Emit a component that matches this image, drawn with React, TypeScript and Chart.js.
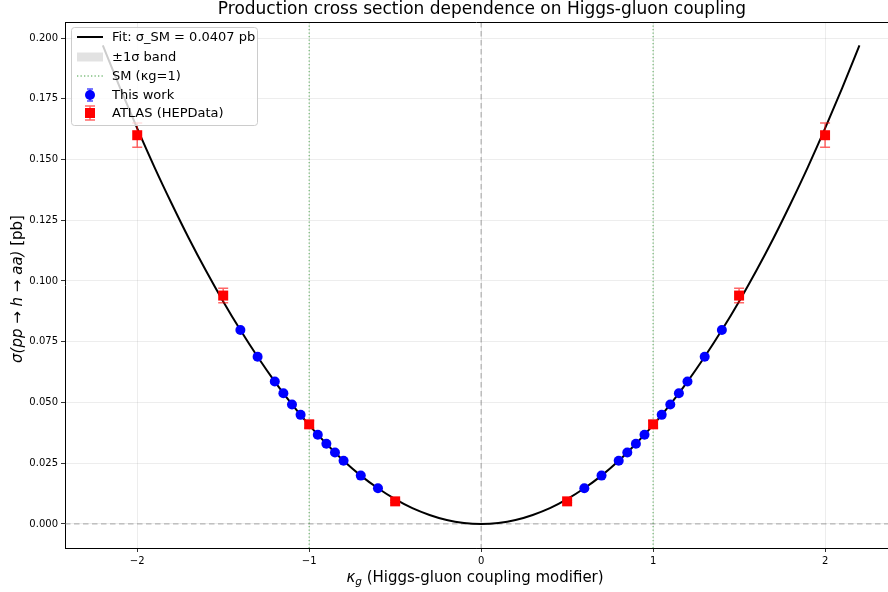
import React, { useEffect, useRef } from "react";
import { Chart, registerables } from "chart.js";

Chart.register(...registerables);

// Fit curve sigma(kappa) (σ_SM = 0.0407 pb)
const fitKappa = [
  -2.2, -2.1, -2.0, -1.9, -1.8, -1.7, -1.6, -1.5, -1.4, -1.3, -1.2, -1.1, -1.0,
  -0.9, -0.8, -0.7, -0.6, -0.5, -0.4, -0.3, -0.2, -0.1, 0.0, 0.1, 0.2, 0.3, 0.4,
  0.5, 0.6, 0.7, 0.8, 0.9, 1.0, 1.1, 1.2, 1.3, 1.4, 1.5, 1.6, 1.7, 1.8, 1.9, 2.0,
  2.1, 2.2,
];
const fitSigma = [
  0.197, 0.1795, 0.1628, 0.1469, 0.1319, 0.1176, 0.1042, 0.0916, 0.0798, 0.0688,
  0.0586, 0.0492, 0.0407, 0.033, 0.026, 0.0199, 0.0147, 0.0102, 0.0065, 0.0037,
  0.0016, 0.0004, 0.0, 0.0004, 0.0016, 0.0037, 0.0065, 0.0102, 0.0147, 0.0199,
  0.026, 0.033, 0.0407, 0.0492, 0.0586, 0.0688, 0.0798, 0.0916, 0.1042, 0.1176,
  0.1319, 0.1469, 0.1628, 0.1795, 0.197,
];

// "This work" points
const workKappa = [
  -1.4, -1.3, -1.2, -1.15, -1.1, -1.05, -0.95, -0.9, -0.85, -0.8, -0.7, -0.6,
  0.6, 0.7, 0.8, 0.85, 0.9, 0.95, 1.05, 1.1, 1.15, 1.2, 1.3, 1.4,
];
const workSigma = [
  0.0798, 0.0688, 0.0586, 0.0538, 0.0492, 0.0449, 0.0367, 0.033, 0.0294, 0.026,
  0.0199, 0.0147, 0.0147, 0.0199, 0.026, 0.0294, 0.033, 0.0367, 0.0449, 0.0492,
  0.0538, 0.0586, 0.0688, 0.0798,
];
const workErr = [
  0.0008, 0.0007, 0.0006, 0.0005, 0.0005, 0.0005, 0.0004, 0.0003, 0.0003,
  0.0003, 0.0002, 0.0002, 0.0002, 0.0002, 0.0003, 0.0003, 0.0003, 0.0004,
  0.0005, 0.0005, 0.0005, 0.0006, 0.0007, 0.0008,
];

// ATLAS (HEPData) points
const atlasKappa = [-2.0, -1.5, -1.0, -0.5, 0.5, 1.0, 1.5, 2.0];
const atlasSigma = [0.16, 0.094, 0.041, 0.0093, 0.0093, 0.041, 0.094, 0.16];
const atlasErr = [0.005, 0.003, 0.0015, 0.0005, 0.0005, 0.0015, 0.003, 0.005];

const xTicks = [-2, -1, 0, 1, 2];
const xTickLabels = ["−2", "−1", "0", "1", "2"];
const yTicks = [0, 0.025, 0.05, 0.075, 0.1, 0.125, 0.15, 0.175, 0.2];

const FONT = "'DejaVu Sans', sans-serif";

function drawErrorBars(ctx: CanvasRenderingContext2D, chart: any, xs: number[], ys: number[], es: number[], color: string, cap: number) {
  const x = chart.scales.x;
  const y = chart.scales.y;
  ctx.save();
  ctx.strokeStyle = color;
  ctx.lineWidth = 1.5;
  for (let i = 0; i < xs.length; i++) {
    const px = x.getPixelForValue(xs[i]);
    const p1 = y.getPixelForValue(ys[i] - es[i]);
    const p2 = y.getPixelForValue(ys[i] + es[i]);
    ctx.beginPath();
    ctx.moveTo(px, p1);
    ctx.lineTo(px, p2);
    if (cap > 0) {
      ctx.moveTo(px - cap, p1);
      ctx.lineTo(px + cap, p1);
      ctx.moveTo(px - cap, p2);
      ctx.lineTo(px + cap, p2);
    }
    ctx.stroke();
  }
  ctx.restore();
}

const overlay = {
  id: "overlay",
  beforeDatasetsDraw(chart: any) {
    const { ctx, chartArea: a, scales } = chart;
    const x = scales.x;
    const y = scales.y;
    ctx.save();
    ctx.beginPath();
    ctx.rect(a.left, a.top, a.right - a.left, a.bottom - a.top);
    ctx.clip();
    // zero reference lines
    ctx.strokeStyle = "rgba(128,128,128,0.55)";
    ctx.lineWidth = 1.3;
    ctx.setLineDash([5.5, 3.5]);
    ctx.beginPath();
    ctx.moveTo(x.getPixelForValue(0), a.top);
    ctx.lineTo(x.getPixelForValue(0), a.bottom);
    ctx.moveTo(a.left, y.getPixelForValue(0));
    ctx.lineTo(a.right, y.getPixelForValue(0));
    ctx.stroke();
    // SM lines
    ctx.strokeStyle = "rgba(0,128,0,0.5)";
    ctx.lineWidth = 1.3;
    ctx.setLineDash([1.3, 2.2]);
    ctx.beginPath();
    for (const k of [-1, 1]) {
      ctx.moveTo(x.getPixelForValue(k), a.top);
      ctx.lineTo(x.getPixelForValue(k), a.bottom);
    }
    ctx.stroke();
    ctx.restore();
  },
  afterDatasetsDraw(chart: any) {
    const { ctx } = chart;
    drawErrorBars(ctx, chart, workKappa, workSigma, workErr, "rgba(0,0,255,0.7)", 3);
    drawErrorBars(ctx, chart, atlasKappa, atlasSigma, atlasErr, "rgba(255,0,0,0.6)", 5);
  },
  afterDraw(chart: any) {
    const { ctx, chartArea: a, scales } = chart;
    ctx.save();
    ctx.setLineDash([]);
    // top spine (right spine lies outside the picture)
    ctx.strokeStyle = "#000";
    ctx.lineWidth = 1;
    ctx.beginPath();
    ctx.moveTo(a.left, a.top + 0.5);
    ctx.lineTo(a.right, a.top + 0.5);
    ctx.stroke();

    // x tick labels
    ctx.fillStyle = "#000";
    ctx.font = `10px ${FONT}`;
    ctx.textAlign = "center";
    ctx.textBaseline = "middle";
    xTicks.forEach((v, i) => ctx.fillText(xTickLabels[i], scales.x.getPixelForValue(v), 561));

    // title
    ctx.font = `17px ${FONT}`;
    ctx.fillText("Production cross section dependence on Higgs-gluon coupling", 482, 10);

    // x axis title
    const cx = 475;
    ctx.textAlign = "left";
    ctx.textBaseline = "alphabetic";
    const p1 = "κ";
    const p2 = "g";
    const p3 = " (Higgs-gluon coupling modifier)";
    ctx.font = `italic 15px ${FONT}`;
    const w1 = ctx.measureText(p1).width;
    ctx.font = `italic 10.5px ${FONT}`;
    const w2 = ctx.measureText(p2).width;
    ctx.font = `15px ${FONT}`;
    const w3 = ctx.measureText(p3).width;
    const sx = cx - (w1 + w2 + w3) / 2;
    const base = 582;
    ctx.font = `italic 15px ${FONT}`;
    ctx.fillText(p1, sx, base);
    ctx.font = `italic 10.5px ${FONT}`;
    ctx.fillText(p2, sx + w1, base + 3);
    ctx.font = `15px ${FONT}`;
    ctx.fillText(p3, sx + w1 + w2, base);

    // y axis title
    ctx.save();
    ctx.translate(18, 289);
    ctx.rotate(-Math.PI / 2);
    const q1 = "σ(pp → h → aa)";
    const q2 = " [pb]";
    ctx.font = `italic 15px ${FONT}`;
    const v1 = ctx.measureText(q1).width;
    ctx.font = `15px ${FONT}`;
    const v2 = ctx.measureText(q2).width;
    ctx.textBaseline = "middle";
    ctx.font = `italic 15px ${FONT}`;
    ctx.fillText(q1, -(v1 + v2) / 2, 0);
    ctx.font = `15px ${FONT}`;
    ctx.fillText(q2, -(v1 + v2) / 2 + v1, 0);
    ctx.restore();

    // legend
    const lx = 71, ly = 27, lw = 186, lh = 98;
    ctx.fillStyle = "rgba(255,255,255,0.8)";
    ctx.strokeStyle = "#cccccc";
    ctx.lineWidth = 1;
    ctx.beginPath();
    (ctx as any).roundRect(lx + 0.5, ly + 0.5, lw, lh, 3);
    ctx.fill();
    ctx.stroke();

    const rows = [37, 57, 76, 95, 113];
    const hx0 = 77, hx1 = 103, hc = 90, tx = 112;
    ctx.font = `13px ${FONT}`;
    ctx.textBaseline = "middle";
    ctx.textAlign = "left";
    // fit line
    ctx.strokeStyle = "#000";
    ctx.lineWidth = 2;
    ctx.beginPath();
    ctx.moveTo(hx0, rows[0]);
    ctx.lineTo(hx1, rows[0]);
    ctx.stroke();
    // band
    ctx.fillStyle = "rgba(160,160,160,0.3)";
    ctx.fillRect(hx0, rows[1] - 4.5, hx1 - hx0, 9);
    // SM dotted
    ctx.strokeStyle = "rgba(0,128,0,0.5)";
    ctx.lineWidth = 1.3;
    ctx.setLineDash([1.3, 2.2]);
    ctx.beginPath();
    ctx.moveTo(hx0, rows[2]);
    ctx.lineTo(hx1, rows[2]);
    ctx.stroke();
    ctx.setLineDash([]);
    // this work
    ctx.strokeStyle = "rgba(0,0,255,0.7)";
    ctx.lineWidth = 1.5;
    ctx.beginPath();
    ctx.moveTo(hc, rows[3] - 6); ctx.lineTo(hc, rows[3] + 6);
    ctx.moveTo(hc - 3, rows[3] - 6); ctx.lineTo(hc + 3, rows[3] - 6);
    ctx.moveTo(hc - 3, rows[3] + 6); ctx.lineTo(hc + 3, rows[3] + 6);
    ctx.stroke();
    ctx.fillStyle = "#0000ff";
    ctx.beginPath();
    ctx.arc(hc, rows[3], 5, 0, Math.PI * 2);
    ctx.fill();
    // atlas
    ctx.strokeStyle = "rgba(255,0,0,0.6)";
    ctx.beginPath();
    ctx.moveTo(hc, rows[4] - 7); ctx.lineTo(hc, rows[4] + 7);
    ctx.moveTo(hc - 5, rows[4] - 7); ctx.lineTo(hc + 5, rows[4] - 7);
    ctx.moveTo(hc - 5, rows[4] + 7); ctx.lineTo(hc + 5, rows[4] + 7);
    ctx.stroke();
    ctx.fillStyle = "#ff0000";
    ctx.fillRect(hc - 5, rows[4] - 5, 10, 10);

    ctx.fillStyle = "#000";
    const labels = ["Fit: σ_SM = 0.0407 pb", "±1σ band", "SM (κg=1)", "This work", "ATLAS (HEPData)"];
    labels.forEach((t, i) => ctx.fillText(t, tx, rows[i] + 1));
    ctx.restore();
  },
};

export default function App() {
  const ref = useRef<HTMLCanvasElement | null>(null);
  useEffect(() => {
    document.body.style.margin = "0";
    const canvas = ref.current;
    if (!canvas) return;
    const chart = new Chart(canvas, {
      type: "scatter",
      data: {
        datasets: [
          {
            label: "Fit",
            data: fitKappa.map((k, i) => ({ x: k, y: fitSigma[i] })),
            showLine: true,
            borderColor: "#000",
            borderWidth: 2,
            pointRadius: 0,
            cubicInterpolationMode: "monotone",
            order: 3,
          } as any,
          {
            label: "This work",
            data: workKappa.map((k, i) => ({ x: k, y: workSigma[i] })),
            backgroundColor: "#0000ff",
            borderColor: "#0000ff",
            borderWidth: 0,
            pointRadius: 5,
            pointStyle: "circle",
            order: 2,
          },
          {
            label: "ATLAS (HEPData)",
            data: atlasKappa.map((k, i) => ({ x: k, y: atlasSigma[i] })),
            backgroundColor: "#ff0000",
            borderColor: "#ff0000",
            borderWidth: 0,
            pointRadius: 7.07,
            pointStyle: "rect",
            order: 1,
          },
        ],
      },
      options: {
        animation: false,
        responsive: false,
        maintainAspectRatio: false,
        layout: { autoPadding: false, padding: { top: 22, right: 0, left: 0, bottom: 0 } },
        plugins: {
          legend: { display: false },
          tooltip: { enabled: false },
          title: { display: false },
        },
        scales: {
          x: {
            type: "linear",
            min: -2.42,
            max: 2.366,
            afterFit: (s: any) => { s.height = 44; s.paddingLeft = 0; s.paddingRight = 0; },
            afterBuildTicks: (s: any) => { s.ticks = xTicks.map((v) => ({ value: v })); },
            ticks: { display: false },
            grid: { color: "rgba(0,0,0,0.09)", lineWidth: 0.8, tickLength: 4, tickColor: "#000", drawTicks: true },
            border: { display: true, color: "#000", width: 1 },
          },
          y: {
            type: "linear",
            min: -0.0099,
            max: 0.2066,
            afterFit: (s: any) => { s.width = 65; s.paddingTop = 0; s.paddingBottom = 0; },
            afterBuildTicks: (s: any) => { s.ticks = yTicks.map((v) => ({ value: v })); },
            ticks: {
              font: { family: FONT, size: 10 },
              color: "#000",
              padding: 3,
              callback: (v: any) => Number(v).toFixed(3),
            },
            grid: { color: "rgba(0,0,0,0.09)", lineWidth: 0.8, tickLength: 4, tickColor: "#000", drawTicks: true },
            border: { display: true, color: "#000", width: 1 },
          },
        },
      },
      plugins: [overlay],
    });
    return () => chart.destroy();
  }, []);
  return (
    <div style={{ width: 888, height: 592, position: "relative", background: "#fff" }}>
      <canvas ref={ref} width={888} height={592} style={{ display: "block" }} />
    </div>
  );
}
